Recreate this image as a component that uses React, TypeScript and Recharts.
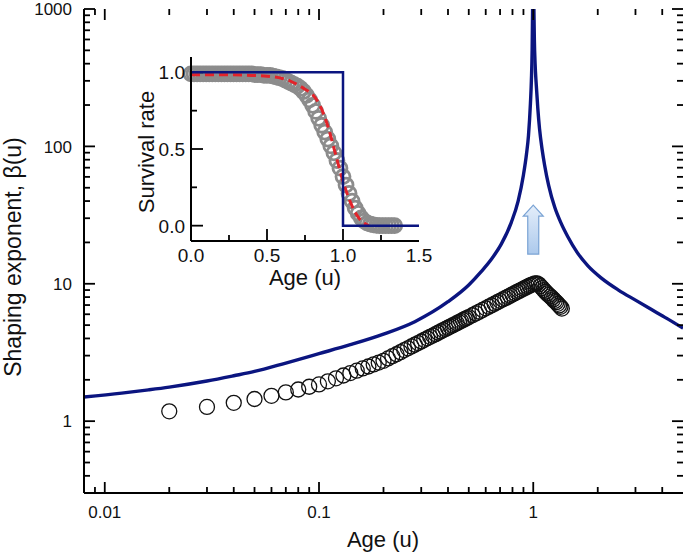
import { ComposedChart, Line, Scatter, XAxis, YAxis, ReferenceDot, ReferenceLine } from 'recharts';

const FONT = '"Liberation Sans", Arial, Helvetica, sans-serif';
const NAVY = '#0b1580';

// main panel: shaping exponent vs age (log-log)
const MAIN_X_LABELS = [0.01, 0.1, 1];
const MAIN_X_MINOR = [0.009, 0.02, 0.03, 0.04, 0.05, 0.06, 0.07, 0.08, 0.09, 0.2, 0.3, 0.4, 0.5, 0.6, 0.7, 0.8, 0.9, 2, 3, 4];
const MAIN_Y_LABELS = [1, 10, 100, 1000];
const MAIN_Y_MINOR = [
  0.4, 0.5, 0.6, 0.7, 0.8, 0.9, 2, 3, 4, 5, 6, 7, 8, 9,
  20, 30, 40, 50, 60, 70, 80, 90, 200, 300, 400, 500, 600, 700, 800, 900,
];

const BLUE_LEFT_U = [0.008, 0.012, 0.016, 0.02, 0.03, 0.04, 0.05, 0.07, 0.1, 0.14, 0.2, 0.28, 0.4, 0.5, 0.57, 0.64, 0.71, 0.79, 0.85, 0.9, 0.93, 0.95, 0.97, 0.98, 0.988, 0.993];
const BLUE_LEFT_B = [1.5, 1.6, 1.69, 1.77, 1.96, 2.14, 2.3, 2.65, 3.1, 3.6, 4.3, 5.3, 7.4, 9.8, 12.2, 15.2, 19.5, 28, 40, 62, 88, 120, 205, 300, 500, 1000];
const BLUE_RIGHT_U = [1.007, 1.012, 1.02, 1.033, 1.05, 1.07, 1.1, 1.13, 1.18, 1.26, 1.35, 1.45, 1.6, 1.8, 2.08, 2.5, 3.0, 3.5, 4.2, 5.0];
const BLUE_RIGHT_B = [1000, 600, 400, 280, 190, 134, 95, 73, 52, 36, 27.5, 22, 17, 13.5, 11.0, 9.0, 7.6, 6.6, 5.6, 4.75];

const CIRCLE_U = [
  0.02, 0.03, 0.04, 0.05, 0.06, 0.07, 0.08, 0.09, 0.1, 0.11, 0.12, 0.13, 0.14, 0.15, 0.16, 0.17, 0.18, 0.19,
  0.2, 0.21, 0.22, 0.23, 0.24, 0.25, 0.26, 0.27, 0.28, 0.29, 0.3, 0.31, 0.32, 0.33, 0.34, 0.35, 0.36, 0.37,
  0.38, 0.39, 0.4, 0.41, 0.42, 0.43, 0.44, 0.45, 0.46, 0.47, 0.48, 0.49, 0.5,
  0.52, 0.54, 0.56, 0.58, 0.6, 0.62, 0.64, 0.66, 0.68, 0.7, 0.72, 0.74, 0.76, 0.78, 0.8, 0.82, 0.84, 0.86,
  0.88, 0.9, 0.92, 0.94, 0.96, 0.98, 1.0, 1.02, 1.04, 1.06, 1.08, 1.1, 1.12, 1.14, 1.16, 1.18, 1.2, 1.22,
  1.24, 1.26, 1.28, 1.3, 1.32, 1.34, 1.36,
];
const CIRCLE_B = [
  1.18, 1.27, 1.36, 1.45, 1.53, 1.62, 1.7, 1.78, 1.85, 1.95, 2.05, 2.15, 2.24, 2.33, 2.42, 2.5, 2.59, 2.67,
  2.75, 2.86, 2.97, 3.07, 3.18, 3.29, 3.39, 3.5, 3.6, 3.7, 3.8, 3.91, 4.01, 4.11, 4.2, 4.3, 4.4, 4.5,
  4.6, 4.69, 4.79, 4.88, 4.98, 5.07, 5.17, 5.26, 5.35, 5.45, 5.54, 5.63, 5.72,
  5.9, 6.09, 6.27, 6.45, 6.63, 6.81, 6.98, 7.16, 7.34, 7.51, 7.69, 7.86, 8.03, 8.2, 8.37, 8.54, 8.71, 8.87,
  9.04, 9.2, 9.37, 9.52, 9.68, 9.82, 9.95, 10.05, 10.05, 9.9, 9.6, 9.3, 9.0, 8.75, 8.5, 8.3, 8.1, 7.9,
  7.7, 7.5, 7.35, 7.15, 6.95, 6.8, 6.6,
];

// inset: survival rate vs age
const INSET_X_LABELS = [0, 0.5, 1, 1.5];
const INSET_X_MAJOR = [0.5, 1];
const INSET_X_MINOR = [0.25, 0.75, 1.25];
const INSET_Y_LABELS = [0, 0.5, 1];
const INSET_Y_MINOR = [0.25, 0.75];

const SURV_U = [
  0, 0.02, 0.04, 0.06, 0.08, 0.1, 0.12, 0.14, 0.16, 0.18, 0.2, 0.22, 0.24, 0.26, 0.28, 0.3, 0.32, 0.34, 0.36,
  0.38, 0.4, 0.42, 0.44, 0.46, 0.48, 0.5, 0.52, 0.54, 0.56, 0.58, 0.6, 0.62, 0.64, 0.66, 0.68, 0.7, 0.72,
  0.74, 0.76, 0.78, 0.8, 0.82, 0.84, 0.86, 0.88, 0.9, 0.92, 0.94, 0.96, 0.98, 1.0, 1.02, 1.04, 1.06, 1.08,
  1.1, 1.12, 1.14, 1.16, 1.18, 1.2, 1.22, 1.24, 1.26, 1.28, 1.3, 1.32, 1.34,
];
const SURV_S = [
  0.99, 0.99, 0.99, 0.99, 0.99, 0.99, 0.99, 0.99, 0.99, 0.99, 0.99, 0.99, 0.99, 0.99, 0.99, 0.99, 0.99, 0.99, 0.99,
  0.99, 0.99, 0.985, 0.985, 0.985, 0.98, 0.98, 0.98, 0.975, 0.97, 0.965, 0.96, 0.95, 0.94, 0.93, 0.92, 0.91, 0.895,
  0.875, 0.85, 0.82, 0.785, 0.745, 0.7, 0.655, 0.61, 0.565, 0.52, 0.475, 0.425, 0.375, 0.32, 0.265, 0.21, 0.16, 0.115,
  0.08, 0.05, 0.03, 0.017, 0.01, 0.005, 0.002, 0, 0, 0, 0, 0, 0,
];
const FIT_U = [0, 0.2, 0.4, 0.5, 0.6, 0.65, 0.7, 0.75, 0.8, 0.85, 0.9, 0.95, 1.0, 1.05, 1.1, 1.15, 1.17];
const FIT_S = [0.985, 0.985, 0.98, 0.975, 0.96, 0.945, 0.92, 0.89, 0.855, 0.78, 0.65, 0.47, 0.29, 0.15, 0.055, 0.01, 0];
const STEP_U = [0, 1, 1, 1.5];
const STEP_S = [1, 1, 0, 0];

const pairs = (xs: number[], ys: number[], k = 'b') => xs.map((u, i) => ({ u, [k]: ys[i] }));

const blueLeft = pairs(BLUE_LEFT_U, BLUE_LEFT_B);
const blueRight = pairs(BLUE_RIGHT_U, BLUE_RIGHT_B);
const circles = pairs(CIRCLE_U, CIRCLE_B);
const survival = pairs(SURV_U, SURV_S, 's');
const fit = pairs(FIT_U, FIT_S, 's');
const step = pairs(STEP_U, STEP_S, 's');

const axisLine = { stroke: '#000', strokeWidth: 2 };
const MK = { stroke: '#000', strokeWidth: 1.8 };

// inward tick marks: a reference line across the plot, drawn only as short stubs at its ends
const vStubs = (len: number, both: boolean) => (p: any) => {
  const top = Math.min(p.y1, p.y2);
  const bot = Math.max(p.y1, p.y2);
  return (
    <g>
      <line x1={p.x1} x2={p.x1} y1={bot} y2={bot - len} {...MK} />
      {both && <line x1={p.x1} x2={p.x1} y1={top} y2={top + len} {...MK} />}
    </g>
  );
};
const hStubs = (len: number, both: boolean) => (p: any) => {
  const left = Math.min(p.x1, p.x2);
  const right = Math.max(p.x1, p.x2);
  return (
    <g>
      <line x1={left} x2={left + len} y1={p.y1} y2={p.y1} {...MK} />
      {both && <line x1={right} x2={right - len} y1={p.y1} y2={p.y1} {...MK} />}
    </g>
  );
};

function App() {
  const mainBottomLabel = (p: any) => (
    <text x={p.x} y={p.y + 25} textAnchor="middle" fontSize={17} fontFamily={FONT} fill="#111">{String(p.payload.value)}</text>
  );
  const mainLeftLabel = (p: any) => (
    <text x={p.x - 12} y={p.y} dy="0.36em" textAnchor="end" fontSize={17} fontFamily={FONT} fill="#111">{String(p.payload.value)}</text>
  );
  const insetBottomLabel = (p: any) => (
    <text x={p.x} y={p.y + 21} textAnchor="middle" fontSize={19} fontFamily={FONT} fill="#111">{p.payload.value.toFixed(1)}</text>
  );
  const insetLeftLabel = (p: any) => (
    <text x={p.x - 6} y={p.y} dy="0.36em" textAnchor="end" fontSize={19} fontFamily={FONT} fill="#111">{p.payload.value.toFixed(1)}</text>
  );

  const arrow = (p: any) => {
    const { cx, cy } = p;
    return (
      <g>
        <defs>
          <linearGradient id="arrowFill" x1="0" y1="0" x2="0" y2="1">
            <stop offset="0%" stopColor="#e4eefa" />
            <stop offset="100%" stopColor="#acc9ec" />
          </linearGradient>
        </defs>
        <polygon
          points={`${cx},${cy - 24} ${cx + 10},${cy - 13} ${cx + 5.5},${cy - 13} ${cx + 5.5},${cy + 25} ${cx - 5.5},${cy + 25} ${cx - 5.5},${cy - 13} ${cx - 10},${cy - 13}`}
          fill="url(#arrowFill)"
          stroke="#7aa3d4"
          strokeWidth={1.2}
        />
      </g>
    );
  };

  const mainX = { type: 'number' as const, scale: 'log' as const, domain: [0.008, 5], allowDataOverflow: true };
  const mainY = { type: 'number' as const, scale: 'log' as const, domain: [0.3, 1000], allowDataOverflow: true };
  const insetX = { type: 'number' as const, domain: [0, 1.5] };
  const insetY = { type: 'number' as const, domain: [-0.1, 1.1] };
  const mainSize = { width: 685, height: 552, margin: { top: 9, right: 2, bottom: 0, left: 0 } };
  const insetSize = { width: 340, height: 260, margin: { top: 10, right: 31, bottom: 0, left: 0 } };
  const hide = { axisLine: false, tick: false, tickLine: false };

  return (
    <div style={{ position: 'absolute', left: 0, top: 0, width: 685, height: 552, background: '#fff' }}>
      <div style={{ position: 'absolute', left: 0, top: 0 }}>
        <ComposedChart {...mainSize}>
          <XAxis
            xAxisId="b" dataKey="u" {...mainX} ticks={MAIN_X_LABELS} interval={0}
            tickSize={0} tickMargin={0} tickLine={false} axisLine={axisLine} tick={mainBottomLabel} height={59}
          />
          <XAxis xAxisId="t" orientation="top" {...mainX} tick={false} tickLine={false} axisLine={axisLine} height={0} />
          <YAxis
            yAxisId="l" dataKey="b" {...mainY} ticks={MAIN_Y_LABELS} interval={0}
            tickSize={0} tickMargin={0} tickLine={false} axisLine={axisLine} tick={mainLeftLabel} width={84}
          />
          <YAxis yAxisId="r" orientation="right" {...mainY} tick={false} tickLine={false} axisLine={axisLine} width={0} />
          <Scatter
            xAxisId="b" yAxisId="l" data={circles} dataKey="b" isAnimationActive={false}
            shape={(p: any) => <circle cx={p.cx} cy={p.cy} r={7.5} fill="none" stroke="#111" strokeWidth={1.3} />}
          />
          <Line xAxisId="b" yAxisId="l" data={blueLeft} dataKey="b" type="monotone" stroke={NAVY} strokeWidth={3.4} dot={false} isAnimationActive={false} />
          <Line xAxisId="b" yAxisId="l" data={blueRight} dataKey="b" type="monotone" stroke={NAVY} strokeWidth={3.4} dot={false} isAnimationActive={false} />
          <ReferenceDot xAxisId="b" yAxisId="l" x={1} y={25} shape={arrow} />
        </ComposedChart>
      </div>

      {/* main tick marks, on their own layer with the same plot box */}
      <div style={{ position: 'absolute', left: 0, top: 0 }}>
        <ComposedChart {...mainSize}>
          <XAxis xAxisId="b" dataKey="u" {...mainX} height={59} {...hide} />
          <YAxis yAxisId="l" dataKey="b" {...mainY} width={84} {...hide} />
          {MAIN_X_LABELS.map((v) => (
            <ReferenceLine key={`xl${v}`} xAxisId="b" yAxisId="l" x={v} shape={vStubs(11, true)} />
          ))}
          {MAIN_X_MINOR.map((v) => (
            <ReferenceLine key={`xm${v}`} xAxisId="b" yAxisId="l" x={v} shape={vStubs(6, true)} />
          ))}
          {MAIN_Y_LABELS.map((v) => (
            <ReferenceLine key={`yl${v}`} xAxisId="b" yAxisId="l" y={v} shape={hStubs(11, true)} />
          ))}
          {MAIN_Y_MINOR.map((v) => (
            <ReferenceLine key={`ym${v}`} xAxisId="b" yAxisId="l" y={v} shape={hStubs(6, true)} />
          ))}
        </ComposedChart>
      </div>

      {/* inset, lower layer: grey survival circles */}
      <div style={{ position: 'absolute', left: 110, top: 47 }}>
        <ComposedChart {...insetSize}>
          <XAxis xAxisId="b" dataKey="u" {...insetX} height={66} {...hide} />
          <YAxis yAxisId="l" dataKey="s" {...insetY} width={81} {...hide} />
          <Scatter
            xAxisId="b" yAxisId="l" data={survival} dataKey="s" isAnimationActive={false}
            shape={(p: any) => <circle cx={p.cx} cy={p.cy} r={7} fill="none" stroke="#8c8c8c" strokeWidth={2.8} />}
          />
        </ComposedChart>
      </div>

      {/* inset, upper layer: fit, step, frame and ticks */}
      <div style={{ position: 'absolute', left: 110, top: 47 }}>
        <ComposedChart {...insetSize}>
          <XAxis
            xAxisId="b" dataKey="u" {...insetX} ticks={INSET_X_LABELS} interval={0}
            tickSize={0} tickMargin={0} tickLine={false} axisLine={axisLine} tick={insetBottomLabel} height={66}
          />
          <XAxis xAxisId="t" orientation="top" {...insetX} tick={false} tickLine={false} axisLine={axisLine} height={0} />
          <YAxis
            yAxisId="l" dataKey="s" {...insetY} ticks={INSET_Y_LABELS} interval={0}
            tickSize={0} tickMargin={0} tickLine={false} axisLine={axisLine} tick={insetLeftLabel} width={81}
          />
          <YAxis yAxisId="r" orientation="right" {...insetY} tick={false} tickLine={false} axisLine={axisLine} width={0} />
          {INSET_X_MAJOR.map((v) => (
            <ReferenceLine key={`ixl${v}`} xAxisId="b" yAxisId="l" x={v} shape={vStubs(12, false)} />
          ))}
          {INSET_X_MINOR.map((v) => (
            <ReferenceLine key={`ixm${v}`} xAxisId="b" yAxisId="l" x={v} shape={vStubs(6, false)} />
          ))}
          {INSET_Y_LABELS.map((v) => (
            <ReferenceLine key={`iyl${v}`} xAxisId="b" yAxisId="l" y={v} shape={hStubs(12, false)} />
          ))}
          {INSET_Y_MINOR.map((v) => (
            <ReferenceLine key={`iym${v}`} xAxisId="b" yAxisId="l" y={v} shape={hStubs(6, false)} />
          ))}
          <Line xAxisId="b" yAxisId="l" data={fit} dataKey="s" type="monotone" stroke="#e3232a" strokeWidth={3} strokeDasharray="9 5" dot={false} isAnimationActive={false} />
          <Line xAxisId="b" yAxisId="l" data={step} dataKey="s" type="linear" stroke={NAVY} strokeWidth={2.5} dot={false} isAnimationActive={false} />
        </ComposedChart>
      </div>

      <svg width={685} height={552} style={{ position: 'absolute', left: 0, top: 0, pointerEvents: 'none' }}>
        <g fontFamily={FONT} fill="#111">
          <text transform="translate(21,257) rotate(-90)" textAnchor="middle" fontSize={23}>Shaping exponent, β(u)</text>
          <text x={383} y={547} textAnchor="middle" fontSize={22}>Age (u)</text>
          <text transform="translate(154,152) rotate(-90)" textAnchor="middle" fontSize={22}>Survival rate</text>
          <text x={305} y={285} textAnchor="middle" fontSize={22}>Age (u)</text>
        </g>
      </svg>
    </div>
  );
}

export default App;
